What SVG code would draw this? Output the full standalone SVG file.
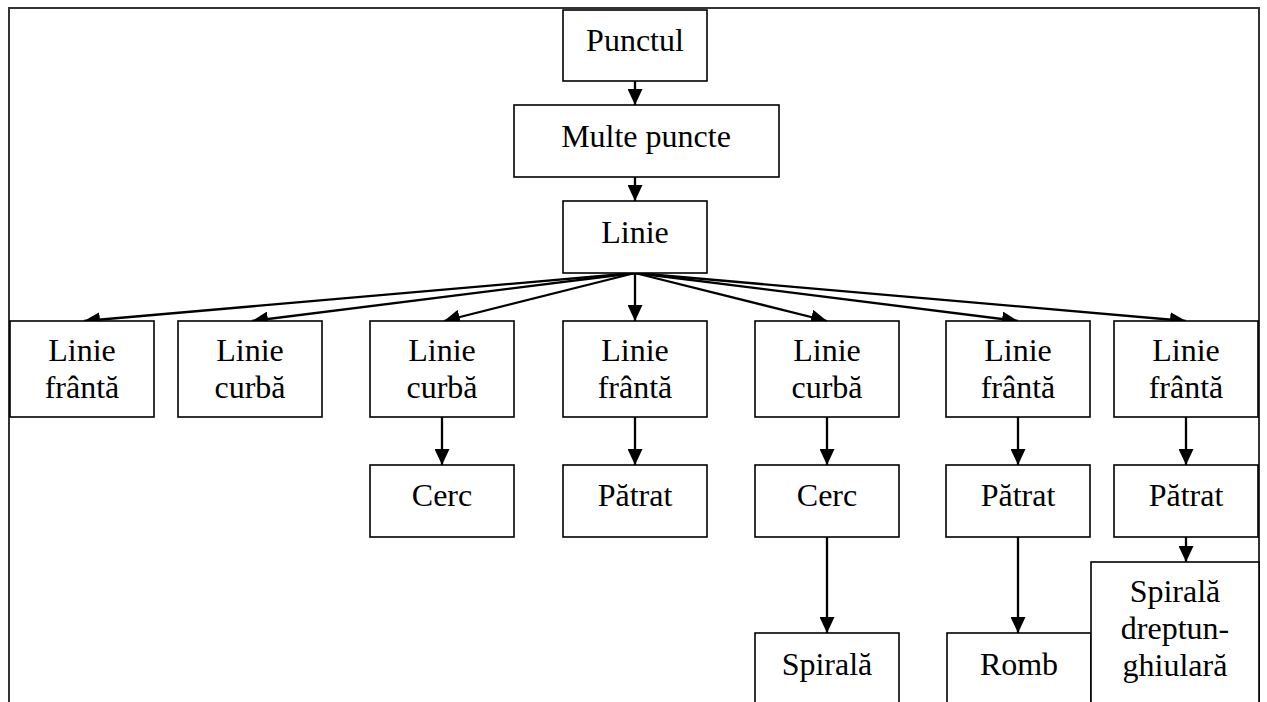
<svg xmlns="http://www.w3.org/2000/svg" width="1267" height="702" viewBox="0 0 1267 702">
<style>
.box{fill:#fff;stroke:#000;stroke-width:1.6}
.t{font-family:"Liberation Serif","Times New Roman",serif;font-size:32px;fill:#000;text-anchor:middle}
.c{fill:none;stroke:#000;stroke-width:2.3}
.frame{fill:none;stroke:#333;stroke-width:2}
</style>
<defs>
<marker id="ah" markerUnits="userSpaceOnUse" markerWidth="16" markerHeight="15" refX="16" refY="7.5" orient="auto">
<path d="M0,0 L16,7.5 L0,15 Z" fill="#000"/>
</marker>
</defs>
<rect width="1267" height="702" fill="#fff"/>
<path class="frame" d="M9,702 V8 H1259 V702"/>
<g id="connectors">
<line class="c" x1="635" y1="81" x2="635" y2="105" marker-end="url(#ah)"/>
<line class="c" x1="635" y1="177" x2="635" y2="201" marker-end="url(#ah)"/>
<line class="c" x1="635" y1="273" x2="84" y2="321" marker-end="url(#ah)"/>
<line class="c" x1="635" y1="273" x2="252" y2="321" marker-end="url(#ah)"/>
<line class="c" x1="635" y1="273" x2="444" y2="321" marker-end="url(#ah)"/>
<line class="c" x1="635" y1="273" x2="635" y2="321" marker-end="url(#ah)"/>
<line class="c" x1="635" y1="273" x2="827" y2="321" marker-end="url(#ah)"/>
<line class="c" x1="635" y1="273" x2="1018" y2="321" marker-end="url(#ah)"/>
<line class="c" x1="635" y1="273" x2="1186" y2="321" marker-end="url(#ah)"/>
<line class="c" x1="442" y1="417" x2="442" y2="465" marker-end="url(#ah)"/>
<line class="c" x1="635" y1="417" x2="635" y2="465" marker-end="url(#ah)"/>
<line class="c" x1="827" y1="417" x2="827" y2="465" marker-end="url(#ah)"/>
<line class="c" x1="1018" y1="417" x2="1018" y2="465" marker-end="url(#ah)"/>
<line class="c" x1="1186" y1="417" x2="1186" y2="465" marker-end="url(#ah)"/>
<line class="c" x1="827" y1="537" x2="827" y2="633" marker-end="url(#ah)"/>
<line class="c" x1="1018" y1="537" x2="1018" y2="633" marker-end="url(#ah)"/>
<line class="c" x1="1186" y1="537" x2="1186" y2="562" marker-end="url(#ah)"/>
</g>
<g id="n-punctul"><rect class="box" x="563" y="10" width="144" height="71"/><text class="t" x="635" y="51">Punctul</text></g>
<g id="n-multe"><rect class="box" x="514" y="105" width="265" height="72"/><text class="t" x="646" y="147">Multe puncte</text></g>
<g id="n-linie"><rect class="box" x="563" y="201" width="144" height="72"/><text class="t" x="635" y="243">Linie</text></g>
<g id="n-r1"><rect class="box" x="10" y="321" width="144" height="96"/><text class="t" x="82" y="361">Linie</text><text class="t" x="82" y="398">frântă</text></g>
<g id="n-r2"><rect class="box" x="178" y="321" width="144" height="96"/><text class="t" x="250" y="361">Linie</text><text class="t" x="250" y="398">curbă</text></g>
<g id="n-r3"><rect class="box" x="370" y="321" width="144" height="96"/><text class="t" x="442" y="361">Linie</text><text class="t" x="442" y="398">curbă</text></g>
<g id="n-r4"><rect class="box" x="563" y="321" width="144" height="96"/><text class="t" x="635" y="361">Linie</text><text class="t" x="635" y="398">frântă</text></g>
<g id="n-r5"><rect class="box" x="755" y="321" width="144" height="96"/><text class="t" x="827" y="361">Linie</text><text class="t" x="827" y="398">curbă</text></g>
<g id="n-r6"><rect class="box" x="946" y="321" width="144" height="96"/><text class="t" x="1018" y="361">Linie</text><text class="t" x="1018" y="398">frântă</text></g>
<g id="n-r7"><rect class="box" x="1114" y="321" width="144" height="96"/><text class="t" x="1186" y="361">Linie</text><text class="t" x="1186" y="398">frântă</text></g>
<g id="n-cerc1"><rect class="box" x="370" y="465" width="144" height="72"/><text class="t" x="442" y="506">Cerc</text></g>
<g id="n-patrat1"><rect class="box" x="563" y="465" width="144" height="72"/><text class="t" x="635" y="506">Pătrat</text></g>
<g id="n-cerc2"><rect class="box" x="755" y="465" width="144" height="72"/><text class="t" x="827" y="506">Cerc</text></g>
<g id="n-patrat2"><rect class="box" x="946" y="465" width="144" height="72"/><text class="t" x="1018" y="506">Pătrat</text></g>
<g id="n-patrat3"><rect class="box" x="1114" y="465" width="144" height="72"/><text class="t" x="1186" y="506">Pătrat</text></g>
<g id="n-spirala"><rect class="box" x="755" y="633" width="144" height="90"/><text class="t" x="827" y="675">Spirală</text></g>
<g id="n-romb"><rect class="box" x="947" y="633" width="144" height="90"/><text class="t" x="1019" y="675">Romb</text></g>
<g id="n-spirdr"><rect class="box" x="1091" y="562" width="168" height="160"/><text class="t" x="1175" y="602">Spirală</text><text class="t" x="1175" y="639">dreptun-</text><text class="t" x="1175" y="676">ghiulară</text></g>
</svg>
